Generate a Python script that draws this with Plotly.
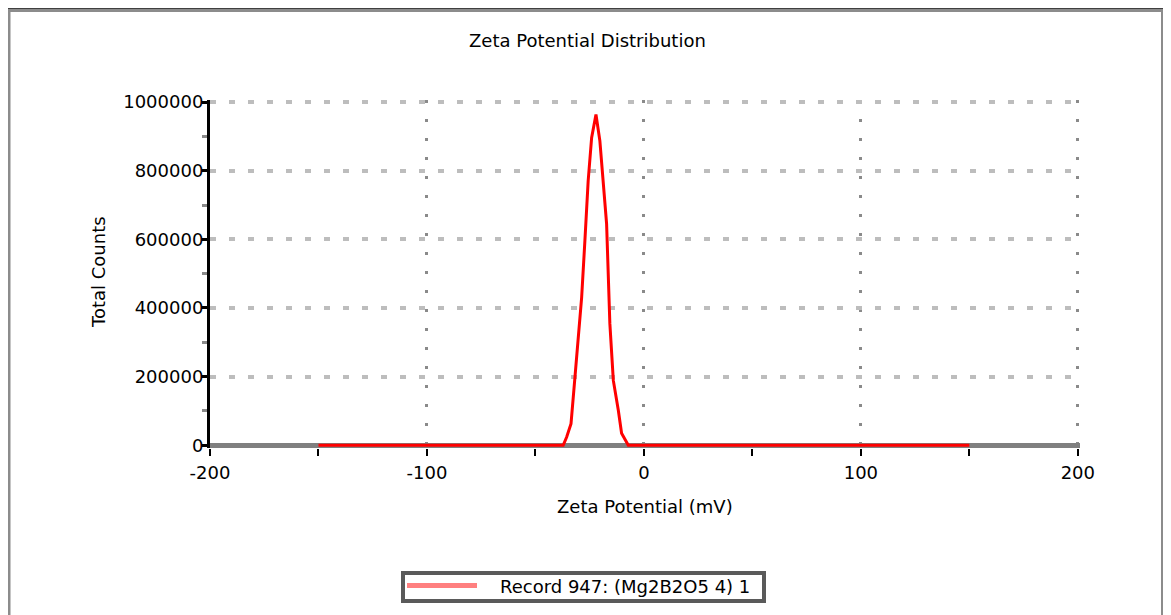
import plotly.graph_objects as go

# ---- data ----
zeta_mv = [-150, -37.2, -35.6, -33.6, -32.3, -31.0, -28.7, -27.2, -25.7, -24.1, -22.1,
           -20.3, -18.8, -17.2, -15.7, -14.1, -11.8, -10.3, -7.2, 150]
total_counts = [0, 0, 24000, 63000, 160000, 257000, 431000, 596000, 770000, 896000, 964000,
                887000, 770000, 645000, 355000, 189000, 102000, 35000, 0, 0]

x_ticks = [-200, -100, 0, 100, 200]
y_ticks = [0, 200000, 400000, 600000, 800000, 1000000]

series_name = "Record 947: (Mg2B2O5 4) 1"
title_text = "Zeta Potential Distribution"
x_title = "Zeta Potential (mV)"
y_title = "Total Counts"

FONT = "DejaVu Sans"
OFF = 8  # page body margin
W, H = 1171 - OFF, 615 - OFF
L, R, T, B = 202, 91, 92, 167
PW = W - L - R
PH = H - T - B

def px_x(p):
    # page pixel -> paper x
    return (p - OFF - L) / PW

def px_y(p):
    # page pixel -> paper y
    return (H - B - (p - OFF)) / PH

fig = go.Figure()
fig.add_trace(go.Scatter(
    x=zeta_mv, y=total_counts, mode="lines",
    line=dict(color="#ff0000", width=3),
    name=series_name, showlegend=False,
))

fig.update_layout(
    width=W, height=H,
    margin=dict(l=L, r=R, t=T, b=B),
    paper_bgcolor="white", plot_bgcolor="white",
    font=dict(family=FONT, size=18, color="#000000"),
    showlegend=False,
)

fig.update_xaxes(
    range=[-200, 201], tickvals=x_ticks, ticktext=[str(v) for v in x_ticks],
    showgrid=True, gridcolor="#8a8a8a", gridwidth=3, griddash="3px,16px",
    showline=False, zeroline=False,
    ticks="outside", ticklen=7, tickwidth=2, tickcolor="#000000",
    minor=dict(dtick=50, tick0=0, ticks="outside", ticklen=7, tickwidth=2,
               tickcolor="#000000", showgrid=False),
    tickfont=dict(family=FONT, size=18, color="#000000"),
    ticklabelstandoff=1,
)
fig.update_yaxes(
    range=[-8000, 1006000], tickvals=y_ticks, ticktext=[str(v) for v in y_ticks],
    showgrid=True, gridcolor="#bdbdbd", gridwidth=4, griddash="6px,13px",
    showline=True, linecolor="#000000", linewidth=3, mirror=False,
    zeroline=True, zerolinecolor="#808080", zerolinewidth=5,
    ticks="outside", ticklen=5, tickwidth=3, tickcolor="#000000",
    minor=dict(dtick=100000, tick0=0, ticks="outside", ticklen=5, tickwidth=3,
               tickcolor="#8a8a8a", showgrid=False),
    tickfont=dict(family=FONT, size=18, color="#000000"),
    ticklabelstandoff=-5,
)

shapes = []
# outer frame
shapes.append(dict(type="rect", xref="paper", yref="paper",
                   x0=px_x(8.5), x1=px_x(1163), y0=px_y(640), y1=px_y(10),
                   line=dict(color="#8c8c8c", width=4), fillcolor="rgba(0,0,0,0)"))
shapes.append(dict(type="line", xref="paper", yref="paper",
                   x0=px_x(6), x1=px_x(1166), y0=px_y(7.5), y1=px_y(7.5),
                   line=dict(color="#404040", width=3)))
# legend box
shapes.append(dict(type="rect", xref="paper", yref="paper",
                   x0=px_x(403), x1=px_x(764), y0=px_y(601), y1=px_y(573),
                   line=dict(color="#5a5a5a", width=4), fillcolor="white"))
shapes.append(dict(type="line", xref="paper", yref="paper",
                   x0=px_x(407), x1=px_x(477), y0=px_y(585.5), y1=px_y(585.5),
                   line=dict(color="#ff8080", width=5)))

annotations = [
    dict(text=title_text, xref="paper", yref="paper", x=px_x(587), y=px_y(40),
         xanchor="center", yanchor="middle", showarrow=False,
         font=dict(family=FONT, size=18, color="#000000")),
    dict(text=x_title, xref="paper", yref="paper", x=px_x(645), y=px_y(506),
         xanchor="center", yanchor="middle", showarrow=False,
         font=dict(family=FONT, size=18, color="#000000")),
    dict(text=y_title, xref="paper", yref="paper", x=px_x(98), y=px_y(272),
         xanchor="center", yanchor="middle", showarrow=False, textangle=-90,
         font=dict(family=FONT, size=18, color="#000000")),
    dict(text=series_name, xref="paper", yref="paper", x=px_x(498), y=px_y(586),
         xanchor="left", yanchor="middle", showarrow=False,
         font=dict(family=FONT, size=18, color="#000000")),
]
fig.update_layout(shapes=shapes, annotations=annotations)

fig.write_html("out.html")
